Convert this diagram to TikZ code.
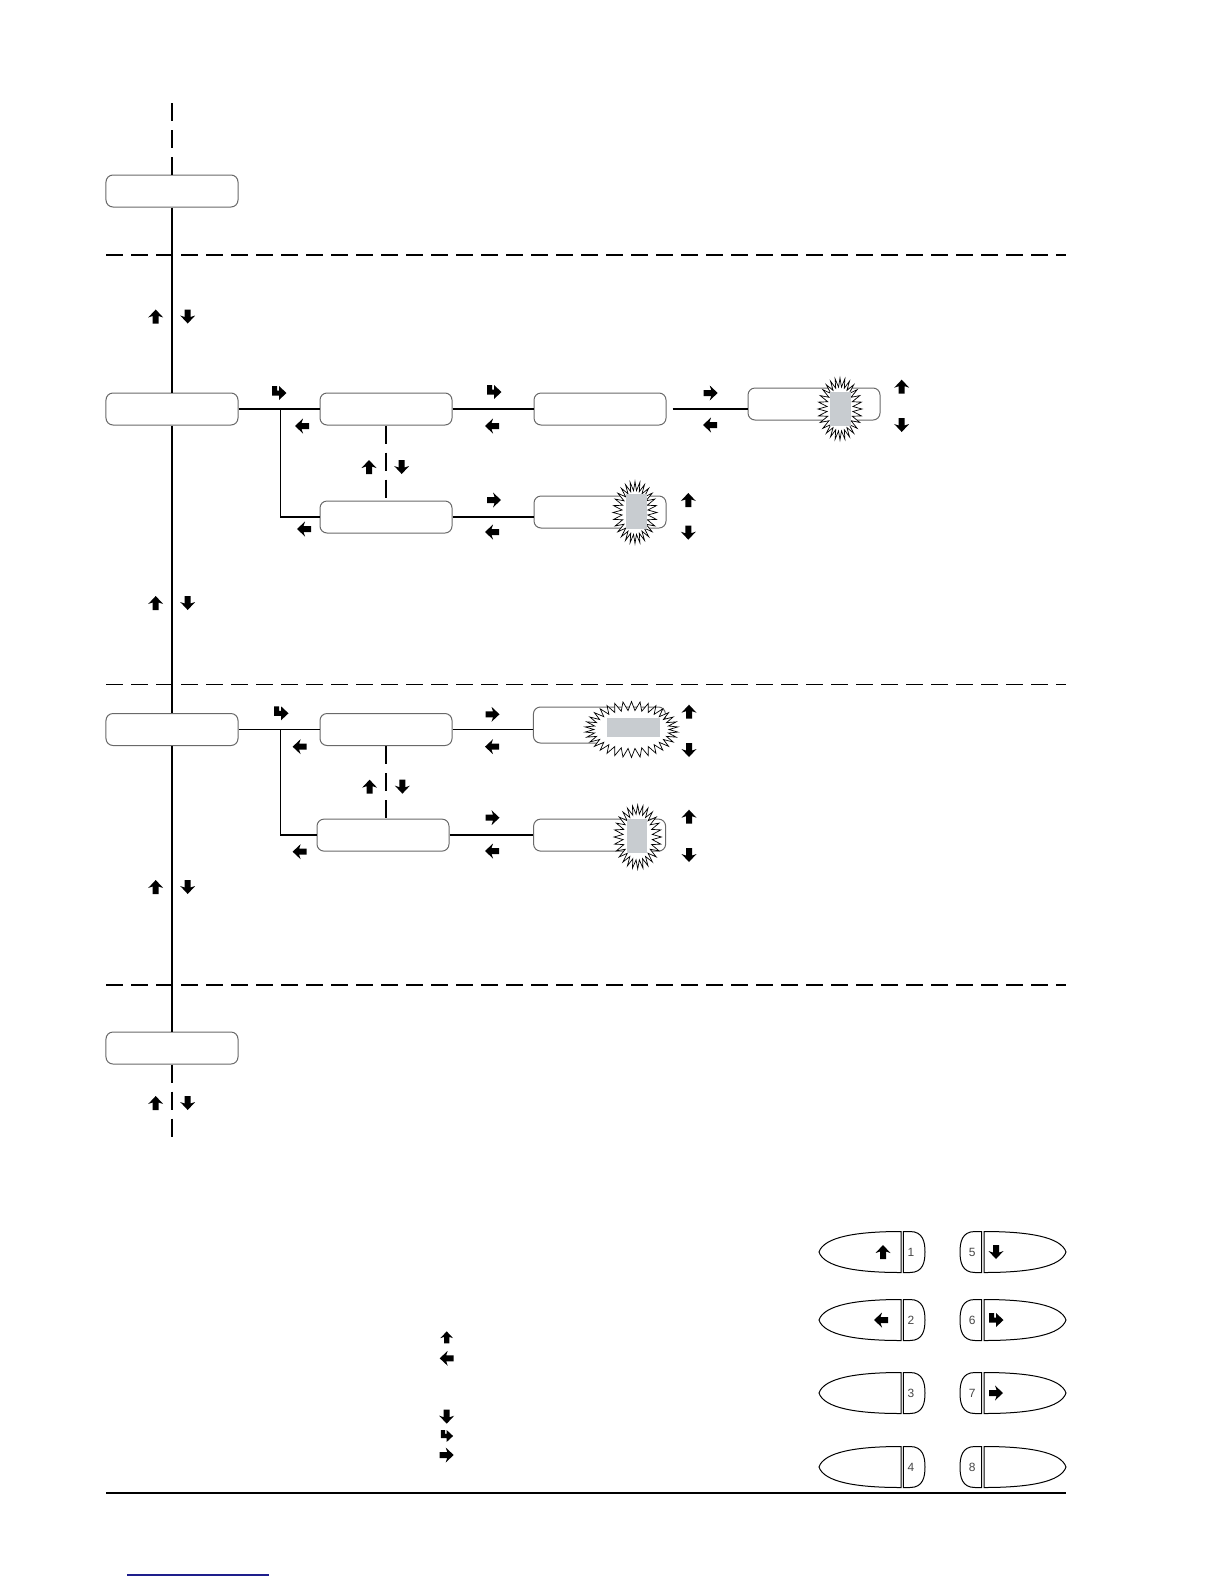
\documentclass[tikz,border=0pt]{standalone}
\usepackage{fontspec}
\setsansfont{Liberation Sans}
\usetikzlibrary{positioning,shapes.symbols}

\definecolor{framegray}{RGB}{105,105,105}
\definecolor{lcdgray}{RGB}{200,204,208}
\definecolor{numgray}{RGB}{70,70,70}
\definecolor{linkblue}{RGB}{30,30,140}

\begin{document}
\begin{tikzpicture}[
    x=0.5bp, y=-0.5bp,
    font=\sffamily\fontsize{6}{7}\selectfont,
    node distance=40.5bp,
    menu/.style={draw=framegray, line width=0.5bp, rounded corners=3.5bp, minimum width=66bp, minimum height=16bp, inner sep=0pt},
    burst/.style={starburst, starburst points=28, starburst point height=4.5bp, random starburst=0, draw, fill=white, line width=0.35bp, inner sep=0pt},
    lcd/.style={fill=lcdgray, inner sep=0pt},
    line/.style={line width=0.65bp},
    vdash/.style={line width=0.65bp, dash pattern=on 9bp off 4.5bp},
    sepline/.style={line width=0.65bp, dash pattern=on 8.3bp off 4.2bp},
    keyno/.style={text=numgray, inner sep=0pt},
    kup/.pic={\fill (0,-7) -- (7.5,1) -- (3,-0.5) -- (3,7) -- (-3,7) -- (-3,-0.5) -- (-7.5,1) -- cycle;},
    kdown/.pic={\pic[rotate=180]{kup};},
    kleft/.pic={\pic[rotate=90]{kup};},
    kright/.pic={\pic[rotate=-90]{kup};},
    kturn/.pic={\fill (-7,-7) -- (-2,-7) -- (-2,-2.5) -- (0,-2.5) -- (0,-7) -- (7.5,0) -- (0,7) -- (0,2.5) -- (-7,2.5) -- cycle;},
    keyshape/.pic={
        \draw[line width=0.5bp] (-1,-20.5) .. controls (-46,-20.5) and (-78,-15) .. (-83,0)
            .. controls (-78,15) and (-46,20.5) .. (-1,20.5) -- cycle;
        \draw[line width=0.5bp] (1.3,-20.5) -- (8,-20.5) .. controls (21,-20.5) and (23,-10) .. (23,0)
            .. controls (23,10) and (21,20.5) .. (8,20.5) -- (1.3,20.5) -- cycle;
    }
]
\useasboundingbox (0,0) rectangle (1224,1584);

% separators
\draw[sepline] (106,255) -- (1066,255);
\draw[sepline] (106,684.5) -- (1066,684.5);
\draw[sepline] (106,985) -- (1066,985);

% main column
\node[menu] (top) at (172,191) {};
\node[menu] (m1) at (172,409) {};
\node[menu] (m2) at (172,729.5) {};
\node[menu] (m3) at (172,1048) {};
\coordinate (topend) at (172,103);
\coordinate (botend) at (172,1138);

% first submenu
\node[menu, right=of m1] (a1) {};
\node[menu, below=37.5bp of a1] (a2) {};
\node[menu, right=of a1] (b1) {};
\node[menu, right=of b1, yshift=2.5bp] (c1) {};
\node[menu, right=of a2, yshift=2.5bp] (b2) {};

% second submenu
\node[menu, right=of m2] (d1) {};
\node[menu, below=36.3bp of d1, xshift=-1.5bp] (d2) {};
\node[menu, right=40.2bp of d1, yshift=2.25bp, minimum height=18bp] (e1) {};
\node[menu, right=41.8bp of d2] (e2) {};

% blinking fields
\node[burst, minimum width=22bp, minimum height=31bp] (s1) at (840,409) {};
\node[lcd, minimum width=10.5bp, minimum height=17bp] (g1) at (840,408.7) {};
\node[burst, minimum width=22bp, minimum height=31bp] (s2) at (635,512.5) {};
\node[lcd, minimum width=10.5bp, minimum height=17.5bp] (g2) at (636.5,511.7) {};
\node[burst, starburst points=34, minimum width=46.5bp, minimum height=28bp] (s3) at (631.5,729.5) {};
\node[lcd, minimum width=26.5bp, minimum height=9.5bp] (g3) at (633.7,727) {};
\node[burst, minimum width=23.7bp, minimum height=32bp] (s4) at (637.7,837) {};
\node[lcd, minimum width=10.3bp, minimum height=17bp] (g4) at (637,836) {};

% connectors
\draw[vdash] (topend) -- (top.north);
\draw[line] (top.south) -- (m1.north);
\draw[line] (m1.south) -- (m2.north);
\draw[line] (m2.south) -- (m3.north);
\draw[vdash] (m3.south) -- (botend);

\coordinate[xshift=21bp] (j1) at (m1.east);
\draw[line] (m1.east) -- (a1.west);
\draw[line] (j1) |- (a2.west);
\draw[vdash] (a1.south) -- (a2.north);
\draw[line] (a1.east) -- (b1.west);
\draw[line, shorten <=3bp] (b1.east) -- (b1.east -| c1.west);
\draw[line] (a2.east) -- (a2.east -| b2.west);

\coordinate[xshift=21bp] (j2) at (m2.east);
\draw[line] (m2.east) -- (d1.west);
\draw[line] (j2) |- (d2.west);
\draw[vdash] (d1.south) -- (d1.south |- d2.north);
\draw[line] (d1.east) -- (d1.east -| e1.west);
\draw[line] (d2.east) -- (d2.east -| e2.west);

% key arrows on the main column
\foreach \y in {316.5,603,887,1103} {
    \pic at (155.7,\y) {kup};
    \pic at (187.7,\y) {kdown};
}

% key arrows, first submenu
\pic at (279,393) {kturn};
\pic at (302,426) {kleft};
\pic at (369,467) {kup};
\pic at (401.7,467) {kdown};
\pic at (304,529) {kleft};
\pic at (494,392) {kturn};
\pic at (492,426) {kleft};
\pic at (710.7,393) {kright};
\pic at (710,425) {kleft};
\pic at (901.7,386.7) {kup};
\pic at (901.7,425) {kdown};
\pic at (494,500) {kright};
\pic at (492,532) {kleft};
\pic at (688.3,500) {kup};
\pic at (688.3,532.7) {kdown};

% key arrows, second submenu
\pic at (281,713.3) {kturn};
\pic at (299.6,746.7) {kleft};
\pic at (369.6,786.7) {kup};
\pic at (402.4,786.7) {kdown};
\pic at (299.6,851.7) {kleft};
\pic at (492.5,714.3) {kright};
\pic at (492,746.7) {kleft};
\pic at (689,711.7) {kup};
\pic at (689,750) {kdown};
\pic at (492.5,817.7) {kright};
\pic at (492,851) {kleft};
\pic at (689,816.7) {kup};
\pic at (689,855) {kdown};

% legend arrows
\pic[scale=0.85] at (446.7,1337.3) {kup};
\pic[scale=0.85] at (446.7,1358.3) {kleft};
\pic[scale=0.85] at (446.7,1416.7) {kdown};
\pic[scale=0.85] at (446.7,1436) {kturn};
\pic[scale=0.85] at (446.7,1455) {kright};

% keypad
\foreach \y/\l/\r in {1252/1/5,1320/2/6,1393/3/7,1467/4/8} {
    \pic at (902,\y) {keyshape};
    \pic[xscale=-1] at (983,\y) {keyshape};
    \node[keyno] (key\l) at (911,\y) {\l};
    \node[keyno] (key\r) at (972.3,\y) {\r};
}
\pic at (883,1252) {kup};
\pic at (881,1320) {kleft};
\pic at (996,1252) {kdown};
\pic at (996,1320) {kturn};
\pic at (996,1393) {kright};

% footer
\draw[line] (106,1493) -- (1066,1493);
\draw[linkblue, line width=0.6bp] (127,1575) -- (269,1575);
\end{tikzpicture}
\end{document}
